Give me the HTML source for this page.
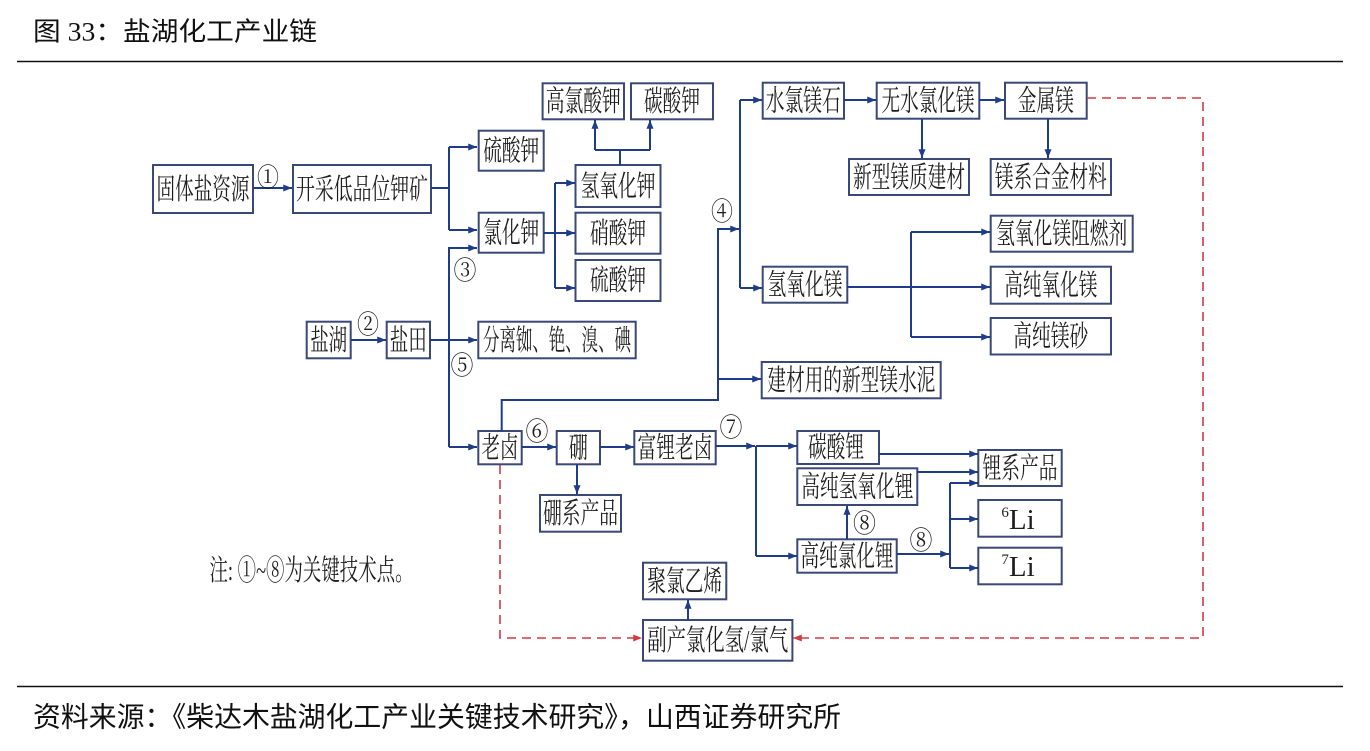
<!DOCTYPE html>
<html><head><meta charset="utf-8">
<style>
html,body{margin:0;padding:0;background:#fff;}
svg{display:block;}
.bx{fill:#fff;stroke:#3a4877;stroke-width:2;}
.t{font-family:"Liberation Serif","Noto Serif CJK SC",serif;font-size:29px;fill:#1e1e1e;text-anchor:middle;dominant-baseline:central;}
.c{font-family:"Noto Serif CJK SC","Liberation Serif",serif;font-size:26px;fill:#1e1e1e;text-anchor:middle;dominant-baseline:central;}
.l{fill:none;stroke:#1f3c88;stroke-width:2;}
.la{fill:none;stroke:#1f3c88;stroke-width:2;marker-end:url(#a);}
.r{fill:none;stroke:#d23a44;stroke-width:1.6;stroke-dasharray:9,6;marker-end:url(#ra);}
.hd{font-family:"Liberation Serif","Noto Sans CJK SC",sans-serif;font-size:26px;fill:#111;dominant-baseline:central;}
.ft{font-family:"Liberation Serif","Noto Sans CJK SC",sans-serif;font-size:28px;fill:#111;dominant-baseline:central;}
</style></head>
<body>
<svg width="1370" height="751" viewBox="0 0 1370 751" xmlns="http://www.w3.org/2000/svg">
<defs>
<marker id="a" viewBox="0 0 10 8" refX="10" refY="4" markerWidth="9" markerHeight="7" orient="auto" markerUnits="userSpaceOnUse"><path d="M0,0 L10,4 L0,8 z" fill="#1f3c88"/></marker>
<marker id="ra" viewBox="0 0 10 8" refX="10" refY="4" markerWidth="9" markerHeight="7" orient="auto" markerUnits="userSpaceOnUse"><path d="M0,0 L10,4 L0,8 z" fill="#d23a44"/></marker>
</defs>
<rect width="1370" height="751" fill="#fff"/>

<!-- header / footer -->
<text class="hd" x="33" y="32" textLength="284" lengthAdjust="spacingAndGlyphs">图 33：盐湖化工产业链</text>
<line x1="17" y1="61.5" x2="1343" y2="61.5" stroke="#111" stroke-width="1.5"/>
<line x1="17" y1="686.5" x2="1343" y2="686.5" stroke="#111" stroke-width="1.5"/>
<text class="ft" x="33" y="718" textLength="808" lengthAdjust="spacingAndGlyphs">资料来源：《柴达木盐湖化工产业关键技术研究》，山西证券研究所</text>

<!-- boxes -->
<rect class="bx" x="153" y="165" width="100" height="48"/>
<rect class="bx" x="293" y="165" width="138" height="48"/>
<rect class="bx" x="478.7" y="130.7" width="65" height="40"/>
<rect class="bx" x="542.6" y="83.3" width="81.4" height="36"/>
<rect class="bx" x="631" y="83.3" width="82" height="36"/>
<rect class="bx" x="575.5" y="165" width="85" height="42"/>
<rect class="bx" x="478.7" y="212.7" width="65" height="40"/>
<rect class="bx" x="575.5" y="212.7" width="85" height="41"/>
<rect class="bx" x="575.5" y="260" width="85" height="41"/>
<rect class="bx" x="306.7" y="321.7" width="44" height="36.6"/>
<rect class="bx" x="386.7" y="321.7" width="43.3" height="36.6"/>
<rect class="bx" x="478.3" y="321.7" width="157.4" height="36.6"/>
<rect class="bx" x="478.3" y="431" width="43.4" height="33.3"/>
<rect class="bx" x="556.7" y="431" width="43.3" height="33.3"/>
<rect class="bx" x="540" y="495" width="81" height="36.7"/>
<rect class="bx" x="634.3" y="431" width="81.4" height="33.3"/>
<rect class="bx" x="797.3" y="431" width="81.7" height="33"/>
<rect class="bx" x="797.3" y="468.3" width="120" height="36.7"/>
<rect class="bx" x="797.3" y="539.3" width="99.4" height="33.4"/>
<rect class="bx" x="978.3" y="450" width="83.4" height="36"/>
<rect class="bx" x="978.3" y="500" width="83.4" height="36.7"/>
<rect class="bx" x="978.3" y="547.7" width="83.4" height="36.6"/>
<rect class="bx" x="643" y="562.7" width="83.3" height="36.6"/>
<rect class="bx" x="643" y="620" width="149.4" height="40.7"/>
<rect class="bx" x="762.7" y="82.7" width="81.3" height="36"/>
<rect class="bx" x="876.7" y="82.7" width="102.6" height="36"/>
<rect class="bx" x="1005" y="82.7" width="81.7" height="36"/>
<rect class="bx" x="849" y="159" width="120" height="36"/>
<rect class="bx" x="990.7" y="159" width="120.3" height="36"/>
<rect class="bx" x="990.7" y="215.7" width="142" height="36"/>
<rect class="bx" x="762.7" y="266.7" width="84.6" height="36"/>
<rect class="bx" x="990.7" y="266.7" width="120.3" height="37"/>
<rect class="bx" x="990.7" y="318" width="120.3" height="36.5"/>
<rect class="bx" x="761.7" y="362" width="179" height="36.3"/>

<!-- connectors -->
<path class="la" d="M253,188 H292"/>
<path class="l" d="M431,188 H449 M449,147 V230"/>
<path class="la" d="M449,147 H477"/>
<path class="la" d="M449,230 H477"/>
<path class="la" d="M449,447 V248 H477"/>
<path class="la" d="M449,447 H477"/>
<path class="la" d="M430,340 H477"/>
<path class="la" d="M351,340 H386"/>
<path class="l" d="M544,233 H555 M555,183 V288"/>
<path class="la" d="M555,183 H575"/>
<path class="la" d="M555,233 H575"/>
<path class="la" d="M555,288 H575"/>
<path class="l" d="M620,165 V150 M595,150 H650"/>
<path class="la" d="M595,150 V120"/>
<path class="la" d="M650,150 V120"/>
<path class="la" d="M501.7,431 V400 H718 V229 H739"/>
<path class="la" d="M718,379 H761"/>
<path class="l" d="M740,100 V288"/>
<path class="la" d="M740,100 H762"/>
<path class="la" d="M740,288 H762"/>
<path class="la" d="M844,100 H876"/>
<path class="la" d="M979,100 H1004"/>
<path class="la" d="M922,119 V158"/>
<path class="la" d="M1048,119 V158"/>
<path class="la" d="M847,287 H990"/>
<path class="l" d="M911,232 V337"/>
<path class="la" d="M911,232 H990"/>
<path class="la" d="M911,337 H990"/>
<path class="la" d="M522,447 H556"/>
<path class="la" d="M577,464 V494"/>
<path class="la" d="M600,447 H634"/>
<path class="la" d="M716,446 H755"/>
<path class="l" d="M756,446 V556"/>
<path class="la" d="M756,446 H797"/>
<path class="la" d="M756,556 H797"/>
<path class="la" d="M847,539 V506"/>
<path class="la" d="M897,554 H949"/>
<path class="l" d="M950,483 V568"/>
<path class="la" d="M950,483 H978"/>
<path class="la" d="M950,519 H978"/>
<path class="la" d="M950,568 H978"/>
<path class="la" d="M879,454 H978"/>
<path class="la" d="M917,472 H978"/>
<path class="la" d="M688,620 V600"/>

<!-- red dashed -->
<path class="r" d="M1087,98 H1203 V638 H793"/>
<path class="r" d="M500,465 V638 H642"/>

<!-- labels -->
<text class="t" x="203" y="190" textLength="93" lengthAdjust="spacingAndGlyphs">固体盐资源</text>
<text class="t" x="362" y="190" textLength="132" lengthAdjust="spacingAndGlyphs">开采低品位钾矿</text>
<text class="t" x="511.2" y="151.5" textLength="56" lengthAdjust="spacingAndGlyphs">硫酸钾</text>
<text class="t" x="583.3" y="102" textLength="75" lengthAdjust="spacingAndGlyphs">高氯酸钾</text>
<text class="t" x="672" y="102" textLength="56" lengthAdjust="spacingAndGlyphs">碳酸钾</text>
<text class="t" x="618" y="187" textLength="75" lengthAdjust="spacingAndGlyphs">氢氧化钾</text>
<text class="t" x="511.2" y="233.5" textLength="56" lengthAdjust="spacingAndGlyphs">氯化钾</text>
<text class="t" x="618" y="234" textLength="56" lengthAdjust="spacingAndGlyphs">硝酸钾</text>
<text class="t" x="618" y="281" textLength="56" lengthAdjust="spacingAndGlyphs">硫酸钾</text>
<text class="t" x="328.7" y="341" textLength="37" lengthAdjust="spacingAndGlyphs">盐湖</text>
<text class="t" x="408.3" y="341" textLength="37" lengthAdjust="spacingAndGlyphs">盐田</text>
<text class="t" x="557" y="341" textLength="148" lengthAdjust="spacingAndGlyphs">分离铷、铯、溴、碘</text>
<text class="t" x="500" y="448.5" textLength="37" lengthAdjust="spacingAndGlyphs">老卤</text>
<text class="t" x="578.3" y="448.5" textLength="19" lengthAdjust="spacingAndGlyphs">硼</text>
<text class="t" x="580.5" y="514" textLength="75" lengthAdjust="spacingAndGlyphs">硼系产品</text>
<text class="t" x="675" y="448.5" textLength="75" lengthAdjust="spacingAndGlyphs">富锂老卤</text>
<text class="t" x="836" y="448" textLength="56" lengthAdjust="spacingAndGlyphs">碳酸锂</text>
<text class="t" x="857.3" y="487.5" textLength="112" lengthAdjust="spacingAndGlyphs">高纯氢氧化锂</text>
<text class="t" x="847" y="557" textLength="93" lengthAdjust="spacingAndGlyphs">高纯氯化锂</text>
<text class="t" x="1020" y="469" textLength="75" lengthAdjust="spacingAndGlyphs">锂系产品</text>
<text class="t" x="1018" y="520" font-size="27"><tspan font-size="15" dy="-7">6</tspan><tspan dy="7">Li</tspan></text>
<text class="t" x="1018" y="567" font-size="27"><tspan font-size="15" dy="-7">7</tspan><tspan dy="7">Li</tspan></text>
<text class="t" x="684.7" y="582" textLength="75" lengthAdjust="spacingAndGlyphs">聚氯乙烯</text>
<text class="t" x="717.7" y="641" textLength="141" lengthAdjust="spacingAndGlyphs">副产氯化氢/氯气</text>
<text class="t" x="803.3" y="101.5" textLength="75" lengthAdjust="spacingAndGlyphs">水氯镁石</text>
<text class="t" x="928" y="101.5" textLength="93" lengthAdjust="spacingAndGlyphs">无水氯化镁</text>
<text class="t" x="1045.8" y="101.5" textLength="56" lengthAdjust="spacingAndGlyphs">金属镁</text>
<text class="t" x="909" y="178" textLength="112" lengthAdjust="spacingAndGlyphs">新型镁质建材</text>
<text class="t" x="1050.8" y="178" textLength="112" lengthAdjust="spacingAndGlyphs">镁系合金材料</text>
<text class="t" x="1061.7" y="234.5" textLength="131" lengthAdjust="spacingAndGlyphs">氢氧化镁阻燃剂</text>
<text class="t" x="805" y="285.5" textLength="75" lengthAdjust="spacingAndGlyphs">氢氧化镁</text>
<text class="t" x="1050.8" y="286" textLength="93" lengthAdjust="spacingAndGlyphs">高纯氧化镁</text>
<text class="t" x="1050.8" y="337" textLength="75" lengthAdjust="spacingAndGlyphs">高纯镁砂</text>
<text class="t" x="851.3" y="381" textLength="168" lengthAdjust="spacingAndGlyphs">建材用的新型镁水泥</text>

<!-- note -->
<text class="t" x="311.5" y="571" font-size="27" textLength="204" lengthAdjust="spacingAndGlyphs">注: ①~⑧为关键技术点。</text>

<!-- circled numbers -->
<text class="c" x="268" y="176" textLength="22" lengthAdjust="spacingAndGlyphs">①</text>
<text class="c" x="368" y="323" textLength="22" lengthAdjust="spacingAndGlyphs">②</text>
<text class="c" x="465" y="269" textLength="23" lengthAdjust="spacingAndGlyphs">③</text>
<text class="c" x="722" y="210" textLength="22" lengthAdjust="spacingAndGlyphs">④</text>
<text class="c" x="462" y="364" textLength="23" lengthAdjust="spacingAndGlyphs">⑤</text>
<text class="c" x="537" y="430" textLength="23" lengthAdjust="spacingAndGlyphs">⑥</text>
<text class="c" x="731" y="426" textLength="23" lengthAdjust="spacingAndGlyphs">⑦</text>
<text class="c" x="864.5" y="522" textLength="23" lengthAdjust="spacingAndGlyphs">⑧</text>
<text class="c" x="921" y="539" textLength="23" lengthAdjust="spacingAndGlyphs">⑧</text>
</svg>
</body></html>
